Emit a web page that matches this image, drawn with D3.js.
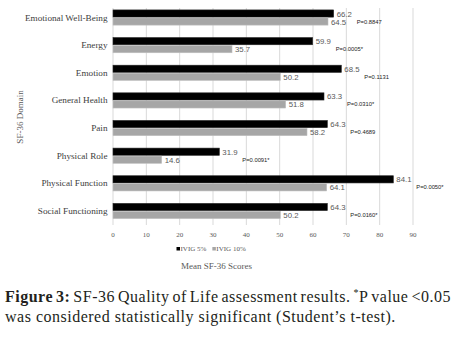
<!DOCTYPE html>
<html><head><meta charset="utf-8">
<script src="https://cdn.jsdelivr.net/npm/d3@7"></script>
<style>body{margin:0;background:#fff}svg{display:block}</style>
</head><body>
<svg id="c" width="452" height="341"></svg>
<script>
const categories = ["Emotional Well-Being","Energy","Emotion","General Health","Pain","Physical Role","Physical Function","Social Functioning"];
const seriesNames = ["IVIG 5%","IVIG 10%"];
const ivig5 = [66.2,59.9,68.5,63.3,64.3,31.9,84.1,64.3];
const ivig10 = [64.5,35.7,50.2,51.8,58.2,14.6,64.1,50.2];
const pValues = ["P=0.8847","P=0.0005*","P=0.1131","P=0.0310*","P=0.4689","P=0.0091*","P=0.0050*","P=0.0160*"];
const xTicks = [0,10,20,30,40,50,60,70,80,90];

const svg = d3.select("#c");
const serif = "'Liberation Serif','DejaVu Serif',serif";
const sans = "'Liberation Sans','DejaVu Sans',sans-serif";
const x = d3.scaleLinear().domain([0,90]).range([113,413]);
const y = d3.scaleBand().domain(categories).range([3.7,224.8]);
const sub = d3.scaleBand().domain(seriesNames).range([-7.6,7.6]).paddingInner(0.1);
const colors = {"IVIG 5%":"#000000","IVIG 10%":"#a6a6a6"};

// gridlines
svg.append("g").selectAll("line").data(xTicks).join("line")
  .attr("x1",d=>x(d)).attr("x2",d=>x(d)).attr("y1",8).attr("y2",225)
  .attr("stroke","#d9d9d9").attr("stroke-width",1);

// tick labels
svg.append("g").selectAll("text").data(xTicks).join("text")
  .attr("x",d=>x(d)).attr("y",237).attr("text-anchor","middle")
  .attr("font-family",serif).attr("font-size",7).attr("fill","#595959").text(d=>d);

const data = categories.map((c,i)=>({c, v:[ivig5[i],ivig10[i]], p:pValues[i]}));
const g = svg.append("g").selectAll("g").data(data).join("g")
  .attr("transform",d=>`translate(0,${y(d.c)+y.bandwidth()/2})`);

seriesNames.forEach((s,k)=>{
  g.append("rect").attr("x",x(0)).attr("y",sub(s)).attr("height",sub.bandwidth())
    .attr("width",d=>x(d.v[k])-x(0)).attr("fill",colors[s])
    .attr("stroke",k===0?"#262626":"#bfbfbf").attr("stroke-width",0.6);
  g.append("text").attr("x",d=>x(d.v[k])+3).attr("y",sub(s)+sub.bandwidth()/2+3)
    .attr("font-family",sans).attr("font-size",7.8).attr("fill","#595959")
    .text(d=>d.v[k].toFixed(1));
});
g.append("text").attr("x",d=>x(d.v[0])+23).attr("y",6)
  .attr("font-family",sans).attr("font-size",5.8).attr("fill","#222").text(d=>d.p);

// category labels
g.append("text").attr("x",107.5).attr("y",3).attr("text-anchor","end")
  .attr("font-family",serif).attr("font-size",9.2).attr("fill","#404040").text(d=>d.c);

// y title
svg.append("text").attr("transform","translate(23,117) rotate(-90)").attr("text-anchor","middle")
  .attr("font-family",serif).attr("font-size",9).attr("fill","#595959").text("SF-36 Domain");

// legend
const lg = svg.append("g").attr("transform","translate(176.5,249.5)");
let lx = 0;
seriesNames.forEach((s,k)=>{
  lg.append("rect").attr("x",lx).attr("y",-2.5).attr("width",3.5).attr("height",3.5).attr("fill",colors[s]);
  const t = lg.append("text").attr("x",lx+4).attr("y",1.5).attr("font-family",serif).attr("font-size",7)
    .attr("fill","#595959").text(s);
  lx += 4 + t.node().getComputedTextLength() + 6;
});

// x title
svg.append("text").attr("x",216.5).attr("y",268.5).attr("text-anchor","middle")
  .attr("font-family",serif).attr("font-size",9).attr("fill","#595959").text("Mean SF-36 Scores");

// caption
const cap = svg.append("g").attr("font-family",serif).attr("font-size",16).attr("letter-spacing",0.5).attr("fill","#231f20");
const line1 = [["Figure",true],["3:",true],["SF-36",false],["Quality",false],["of",false],["Life",false],["assessment",false],["results.",false],["*P",false],["value",false],["<0.05",false]];
const words = line1.map(([w,b])=>{
  const t = cap.append("text").attr("y",302).attr("font-weight",b?"bold":"normal");
  if (w==="*P"){ t.append("tspan").attr("font-size",10).attr("dy",-6).text("*"); t.append("tspan").attr("dy",6).text("P"); }
  else t.text(w);
  return t;
});
const widths = words.map(t=>t.node().getComputedTextLength());
const total = d3.sum(widths), left=5, right=451;
const gap = (right-left-total)/(words.length-1);
let cx = left;
words.forEach((t,i)=>{t.attr("x",cx); cx += widths[i]+gap;});
cap.append("text").attr("x",5).attr("y",322).text("was considered statistically significant (Student\u2019s t-test).");
</script>
</body></html>
